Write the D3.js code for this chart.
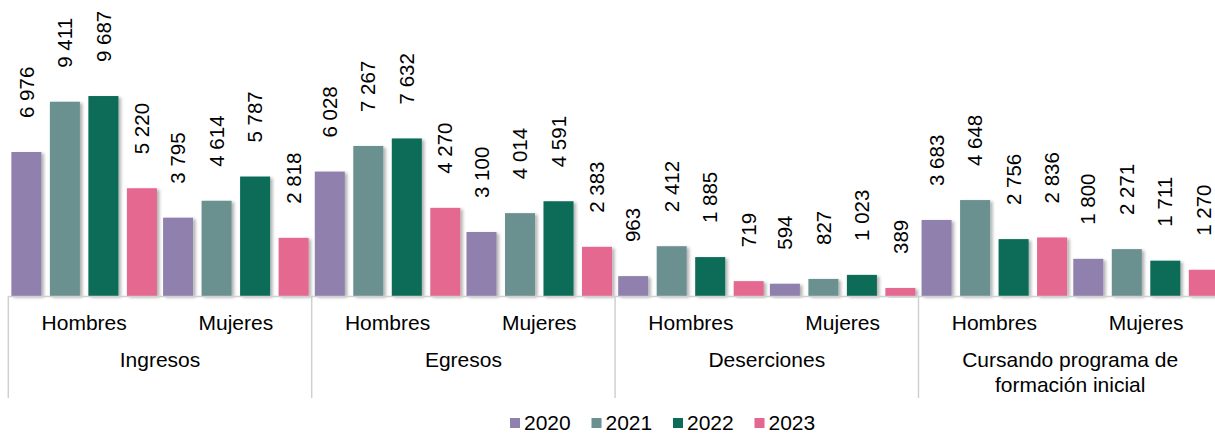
<!DOCTYPE html>
<html>
<head>
<meta charset="utf-8">
<script src="https://cdn.jsdelivr.net/npm/d3@7"></script>
<style>
  body { margin: 0; background: #fff; }
  svg { display: block; font-family: "Liberation Sans", Arial, sans-serif; }
</style>
</head>
<body>
<svg id="chart" width="1215" height="434"></svg>
<script>
// categories
const groups = ["Ingresos", "Egresos", "Deserciones", "Cursando programa de formación inicial"];
const sexes = ["Hombres", "Mujeres"];
const years = ["2020", "2021", "2022", "2023"];
const colors = ["#8f80ad", "#6a9190", "#0b6c59", "#e46790"];

// values per year, order: group x sex (Hombres, Mujeres)
const v2020 = [6976, 3795, 6028, 3100, 963, 594, 3683, 1800];
const v2021 = [9411, 4614, 7267, 4014, 2412, 827, 4648, 2271];
const v2022 = [9687, 5787, 7632, 4591, 1885, 1023, 2756, 1711];
const v2023 = [5220, 2818, 4270, 2383, 719, 389, 2836, 1270];
const series = [v2020, v2021, v2022, v2023];

const data = [];
groups.forEach((g, gi) => sexes.forEach((s, si) => years.forEach((y, yi) => {
  data.push({group: g, sex: s, year: y, yi, value: series[yi][gi * 2 + si]});
})));

const svg = d3.select("#chart");
const left = 8.3, groupW = 303.4, base = 296;

const x0 = d3.scaleBand().domain(groups).range([left, left + groupW * groups.length]);
const x1 = d3.scaleBand().domain(sexes).range([0, groupW]);
const x2 = d3.scaleBand().domain(years).range([0, groupW / 2]).paddingInner(0.22).paddingOuter(0.08);
const y = d3.scaleLinear().domain([0, 14000]).range([base, 7]);
const color = d3.scaleOrdinal().domain(years).range(colors);
const fmt = d3.formatLocale({decimal: ",", thousands: " ", grouping: [3], currency: ["", ""]}).format(",d");

const defs = svg.append("defs");
const f = defs.append("filter").attr("id", "sh").attr("x", "-20%").attr("y", "-10%").attr("width", "150%").attr("height", "130%");
f.append("feDropShadow").attr("dx", 2.5).attr("dy", 1.5).attr("stdDeviation", 1.8).attr("flood-color", "#000").attr("flood-opacity", 0.3);

const bx = d => x0(d.group) + x1(d.sex) + x2(d.year);

svg.append("g").selectAll("rect").data(data).join("rect")
  .attr("x", bx)
  .attr("y", d => y(d.value))
  .attr("width", x2.bandwidth())
  .attr("height", d => base - y(d.value))
  .attr("fill", d => color(d.year))
  .attr("filter", "url(#sh)");

svg.append("g").selectAll("text").data(data).join("text")
  .attr("transform", d => `translate(${bx(d) + x2.bandwidth() / 2},${y(d.value) - 34}) rotate(-90)`)
  .attr("dy", "0.35em")
  .attr("font-size", 20.5)
  .attr("fill", "#000")
  .text(d => fmt(d.value));

// axis lines
const ax = svg.append("g").attr("stroke", "#d0d0d0").attr("stroke-width", 1.5);
ax.append("line").attr("x1", left).attr("x2", 1215).attr("y1", base + 0.5).attr("y2", base + 0.5);
groups.concat([null]).forEach((g, i) => {
  const xx = left + groupW * i;
  ax.append("line").attr("x1", xx).attr("x2", xx).attr("y1", base).attr("y2", 398);
});

// category labels
const lab = svg.append("g").attr("font-size", 21).attr("fill", "#000").attr("text-anchor", "middle");
groups.forEach(g => {
  sexes.forEach(s => {
    lab.append("text").attr("x", x0(g) + x1(s) + x1.bandwidth() / 2).attr("y", 330).text(s);
  });
});
const groupLines = [["Ingresos"], ["Egresos"], ["Deserciones"], ["Cursando programa de", "formación inicial"]];
groups.forEach((g, gi) => {
  groupLines[gi].forEach((t, li) => {
    lab.append("text").attr("x", x0(g) + groupW / 2).attr("y", 367 + li * 25).text(t);
  });
});

// legend
const leg = svg.append("g").attr("font-size", 21);
years.forEach((yr, i) => {
  const lx = 510 + i * 81.5;
  leg.append("rect").attr("x", lx).attr("y", 418).attr("width", 10).attr("height", 10).attr("fill", color(yr));
  leg.append("text").attr("x", lx + 14).attr("y", 430).text(yr);
});
</script>
</body>
</html>
